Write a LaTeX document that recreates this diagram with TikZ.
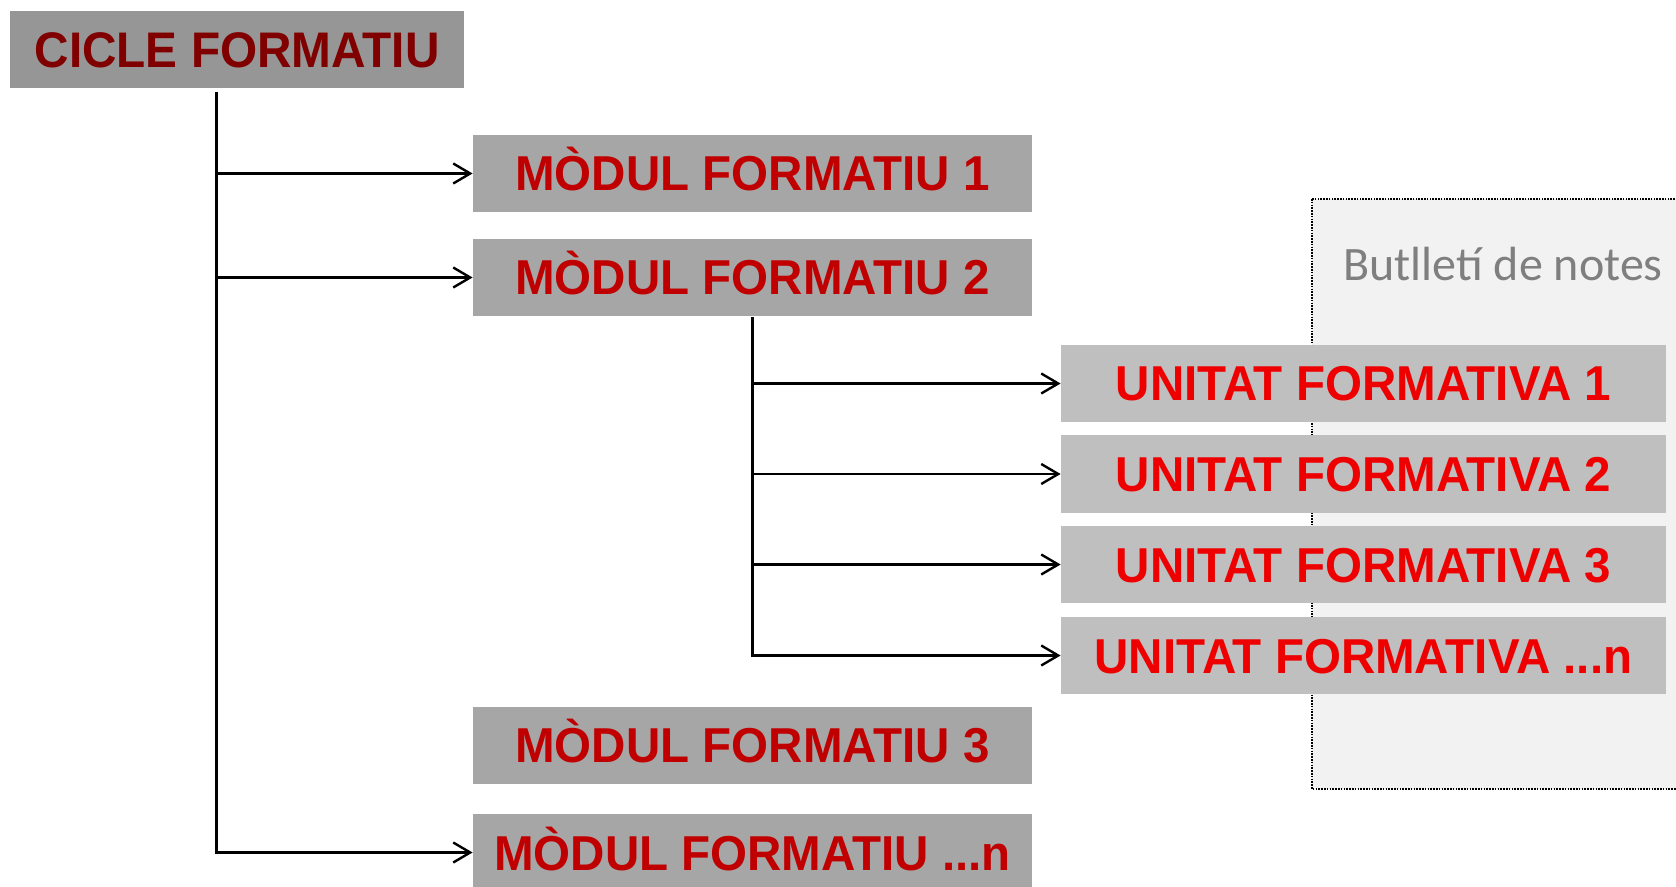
\documentclass[tikz,border=0pt]{standalone}
\usepackage{fontspec}
\setmainfont{Liberation Sans}
\newfontfamily\calib{Carlito}
\usetikzlibrary{arrows.meta}
\definecolor{cicfill}{HTML}{969696}
\definecolor{cictext}{HTML}{800000}
\definecolor{mffill}{HTML}{A6A6A6}
\definecolor{mftext}{HTML}{C00000}
\definecolor{uffill}{HTML}{BFBFBF}
\definecolor{uftext}{HTML}{EE0000}
\definecolor{notefill}{HTML}{F2F2F2}
\definecolor{notetext}{HTML}{7F7F7F}
\tikzset{
  cicbox/.style={fill=cicfill, text=cictext, inner sep=0pt, minimum width=227pt, minimum height=38.5pt,
    font=\fontsize{25pt}{30pt}\selectfont\bfseries, text height=17.9pt, text depth=0pt},
  mfbox/.style={fill=mffill, text=mftext, inner sep=0pt, minimum width=279.5pt, minimum height=38.5pt,
    font=\fontsize{24.5pt}{29pt}\selectfont\bfseries, text height=17.5pt, text depth=0pt},
  ufbox/.style={fill=uffill, text=uftext, inner sep=0pt, minimum width=302.5pt, minimum height=38.5pt,
    font=\fontsize{24.5pt}{29pt}\selectfont\bfseries, text height=17.5pt, text depth=0pt},
  trunk/.style={line width=1.5pt, draw=black},
  arr/.style={line width=1.2pt, draw=black, -{Straight Barb[length=8.5pt, width=10pt]}},
  notebox/.style={fill=notefill, draw=black, line width=0.8pt, dash pattern=on 0.8pt off 0.6pt}
}
\newcommand{\sq}[2][0.97]{\scalebox{#1}[1]{#2}}
\begin{document}
\begin{tikzpicture}[x=0.5pt, y=-0.5pt]
\useasboundingbox (0,0) rectangle (1676,887);
% notes panel
\draw[notebox] (1312,199) rectangle (1700,789);
\node[anchor=base west, inner sep=0pt, text=notetext, font=\calib\fontsize{24pt}{28pt}\selectfont] (notes) at (1343,281) {Butlletí de notes};
% boxes
\node[cicbox] (cicle) at (237,49.5) {\sq[0.955]{CICLE FORMATIU}};
\node[mfbox] (mf1) at (752.5,173.5) {\sq{MÒDUL FORMATIU 1}};
\node[mfbox] (mf2) at (752.5,277.5) {\sq{MÒDUL FORMATIU 2}};
\node[mfbox] (mf3) at (752.5,745) {\sq{MÒDUL FORMATIU 3}};
\node[mfbox] (mfn) at (752.5,852.5) {\sq{MÒDUL FORMATIU ...n}};
\node[ufbox] (uf1) at (1363.5,383.5) {\sq{UNITAT FORMATIVA 1}};
\node[ufbox] (uf2) at (1363.5,474) {\sq{UNITAT FORMATIVA 2}};
\node[ufbox] (uf3) at (1363.5,564.5) {\sq{UNITAT FORMATIVA 3}};
\node[ufbox] (ufn) at (1363.5,655.5) {\sq{UNITAT FORMATIVA ...n}};
% main trunk
\coordinate (t0) at (216,92);
\coordinate (t1) at (216,852.5);
\draw[trunk] (t0) -- ([yshift=-0.6pt]t1);
\draw[arr] (t0 |- mf1.west) -- (mf1.west);
\draw[arr] (t0 |- mf2.west) -- (mf2.west);
\draw[arr] (t1) -- (mfn.west);
% sub trunk
\coordinate (s0) at (752,317);
\coordinate (s1) at (752,655.5);
\draw[trunk] (s0) -- ([yshift=-0.6pt]s1);
\draw[arr] (s0 |- uf1.west) -- (uf1.west);
\draw[arr] (s0 |- uf2.west) -- (uf2.west);
\draw[arr] (s0 |- uf3.west) -- (uf3.west);
\draw[arr] (s1) -- (ufn.west);
\end{tikzpicture}
\end{document}
